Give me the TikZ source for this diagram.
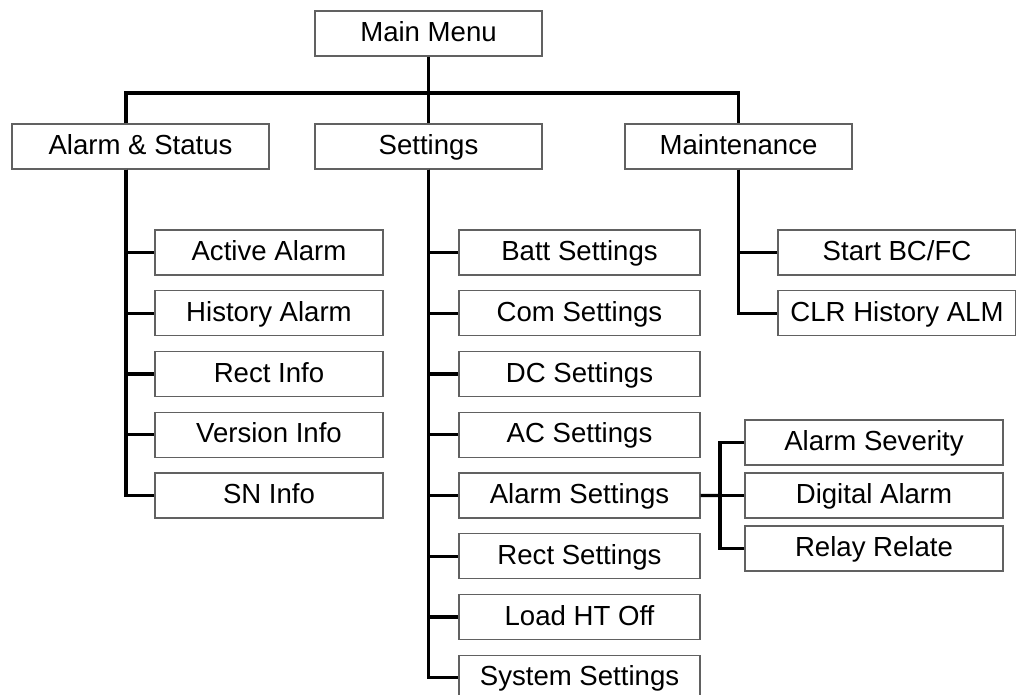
\documentclass[tikz,border=0pt]{standalone}
\usepackage{fontspec}
\setmainfont{Liberation Sans}
\begin{document}
\begin{tikzpicture}[x=0.02cm, y=-0.02cm, node distance=1.215cm]

    % Styles
    \tikzstyle{menubox} = [rectangle, minimum height=0.9cm, inner sep=0pt, text height=12pt, text depth=2.6pt, text centered, draw=black!62, line width=0.7pt, font=\fontsize{15.7}{18}\selectfont]
    \tikzstyle{topbox} = [menubox, minimum width=4.54cm]
    \tikzstyle{infobox} = [menubox, minimum width=4.56cm]
    \tikzstyle{setbox} = [menubox, minimum width=4.82cm]
    \tikzstyle{maintbox} = [menubox, minimum width=4.76cm]
    \tikzstyle{subbox} = [menubox, minimum width=5.16cm]
    \tikzstyle{link} = [line width=1.8pt, black]

    \useasboundingbox (0,0) rectangle (1016,695);

    % Nodes
    \node (main) [topbox] at (428.5,33.5) {Main Menu};
    \node (alarm) [topbox, minimum width=5.14cm] at (140.5,146.5) {Alarm \& Status};
    \node (settings) [topbox] at (428.5,146.5) {Settings};
    \node (maint) [topbox] at (738.5,146.5) {Maintenance};

    \node (active) [infobox] at (269,252.5) {Active Alarm};
    \node (history) [infobox, below of=active] {History Alarm};
    \node (rectinfo) [infobox, below of=history] {Rect Info};
    \node (version) [infobox, below of=rectinfo] {Version Info};
    \node (sninfo) [infobox, below of=version] {SN Info};

    \node (batt) [setbox] at (579.5,252.5) {Batt Settings};
    \node (com) [setbox, below of=batt] {Com Settings};
    \node (dc) [setbox, below of=com] {DC Settings};
    \node (ac) [setbox, below of=dc] {AC Settings};
    \node (alarmset) [setbox, below of=ac] {Alarm Settings};
    \node (rectset) [setbox, below of=alarmset] {Rect Settings};
    \node (load) [setbox, below of=rectset] {Load HT Off};
    \node (system) [setbox, below of=load] {System Settings};

    \node (start) [maintbox] at (897,252.5) {Start BC/FC};
    \node (clr) [maintbox, below of=start] {CLR History ALM};

    \node (digital) [subbox] at (874,495.5) {Digital Alarm};
    \node (severity) [subbox, above of=digital, node distance=1.06cm] {Alarm Severity};
    \node (relay) [subbox, below of=digital, node distance=1.06cm] {Relay Relate};

    \coordinate (busL) at (126,93);
    \coordinate (trunkA) at (busL |- alarm.south);
    \coordinate (subL) at (720,495.5);

    % Lines
    \draw [link] (main) -- (settings);
    \draw [link] (busL |- alarm.north) -- (busL) -| (maint.north);
    \foreach \n in {active,history,rectinfo,version,sninfo}
        \draw [link] (trunkA) |- (\n);
    \foreach \n in {batt,com,dc,ac,alarmset,rectset,load,system}
        \draw [link] (settings) |- (\n);
    \foreach \n in {start,clr}
        \draw [link] (maint) |- (\n);
    \draw [link] (alarmset) -- (subL);
    \foreach \n in {severity,digital,relay}
        \draw [link] (subL) |- (\n);

\end{tikzpicture}
\end{document}
